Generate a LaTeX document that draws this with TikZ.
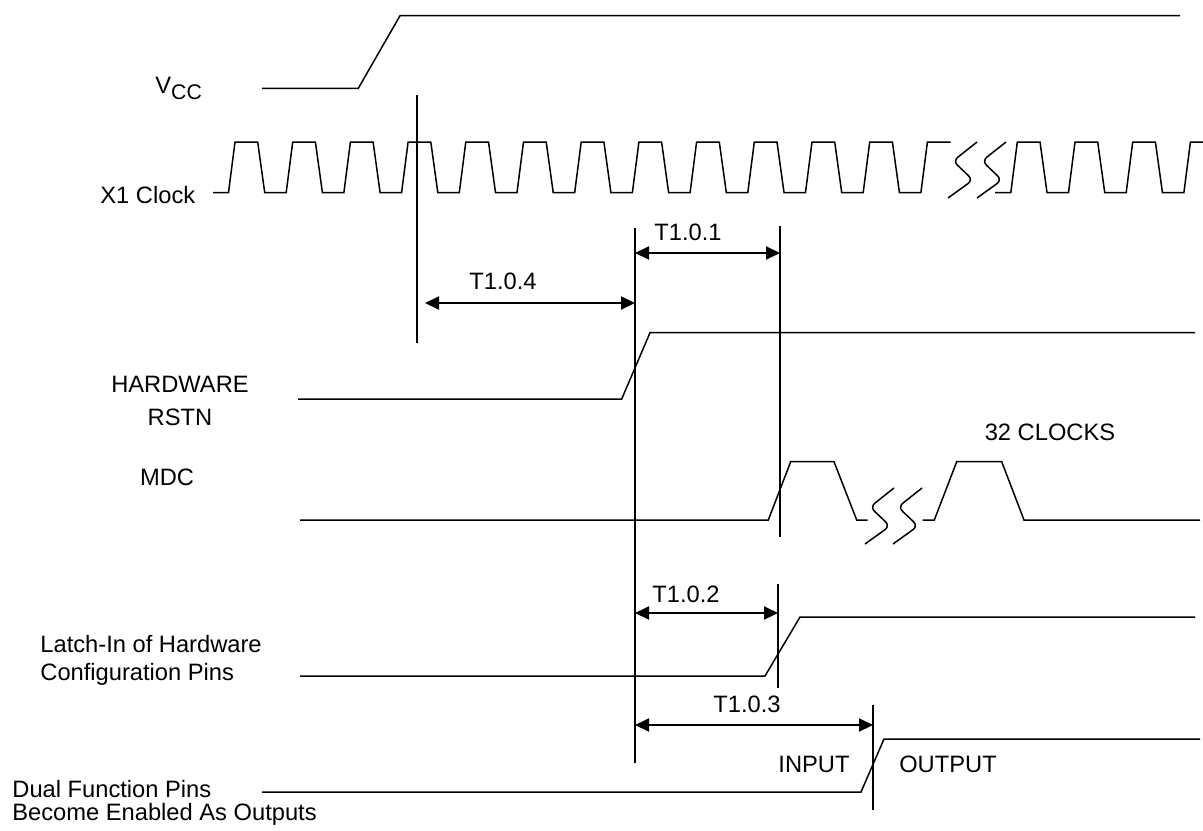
\documentclass[tikz,border=0pt]{standalone}
\usepackage{fontspec}
\setmainfont{Liberation Sans}
\usetikzlibrary{arrows.meta}
\tikzset{
  wave/.style={line width=0.75pt, line join=miter},
  marker/.style={line width=1pt},
  dim/.style={line width=1pt, {Triangle[length=7pt,width=6.5pt]}-{Triangle[length=7pt,width=6.5pt]}},
  lbl/.style={inner sep=0pt, font=\fontsize{11.85}{14}\selectfont},
}
\begin{document}
\begin{tikzpicture}[x=0.5pt, y=-0.5pt]
      \useasboundingbox (0,0) rectangle (1203,830);
      % LABELS
      \node[lbl, anchor=base west] (vcc) at (155,93) {V\raisebox{-3pt}{\fontsize{10.6}{12}\selectfont CC}};
      \node[lbl, anchor=base west] (clk) at (100,203) {X1 Clock};
      \node[lbl, anchor=base] (rst0) at (180,392) {HARDWARE};
      \node[lbl, anchor=base] (rst1) at (180,425) {RSTN};
      \node[lbl, anchor=base] (mdc) at (167,485) {MDC};
      \node[lbl, anchor=base west] (lat0) at (40,652) {Latch-In of Hardware};
      \node[lbl, anchor=base west] (lat1) at (40,680) {Configuration Pins};
      \node[lbl, anchor=base west] (dual0) at (12,797) {Dual Function Pins};
      \node[lbl, anchor=base west] (dual1) at (12,820) {Become Enabled As Outputs};
      \node[lbl, anchor=base] (nclk) at (1050,440) {32 CLOCKS};
      \node[lbl, anchor=base] (inp) at (814,772) {INPUT};
      \node[lbl, anchor=base] (outp) at (948,772) {OUTPUT};
      % VCC
      \draw[wave] (262,88.3) -- (358.3,88.3) -- (400,15.7) -- (1180,15.7);
      % X1 CLOCK
      \draw[wave] (213,192.5) -- (228.5,192.5)
        \foreach \k in {0,...,11} {
          -- ({228.5+57.7*\k},192.5) -- ({235+57.7*\k},142)
          -- ({257.7+57.7*\k},142) -- ({264.7+57.7*\k},192.5)
        } -- (920.9,192.5) -- (927.4,142) -- (950.7,142);
      \draw[wave] (995,192.5) -- (1010.8,192.5)
        \foreach \k in {0,...,2} {
          -- ({1010.8+57.7*\k},192.5) -- ({1017.3+57.7*\k},142)
          -- ({1040+57.7*\k},142) -- ({1047+57.7*\k},192.5)
        } -- (1183.9,192.5) -- (1190.4,142) -- (1203,142);
      % HARDWARE RSTN
      \draw[wave] (298,399) -- (621.7,399) -- (650,332.7) -- (1195,332.7);
      % MDC
      \draw[wave] (300,520) -- (768.3,520) -- (790.7,461.7) -- (834,461.7)
        -- (856.7,520) -- (867.7,520);
      \draw[wave] (922.7,520) -- (934.3,520) -- (956.7,461.7) -- (1001.7,461.7)
        -- (1024,520) -- (1200,520);
      % BREAKS
      \foreach \bx/\by in {948/198, 977/198, 865/544, 893/544}
        \draw[wave, rounded corners=3pt] (\bx,\by) -- ++(25,-18) -- ++(-20,-19) -- ++(24,-19);
      % LATCH-IN
      \draw[wave] (300,676) -- (765,676) -- (800,617) -- (1195,617);
      % DUAL FUNCTION PINS
      \draw[wave] (262,792) -- (861,792) -- (884,739) -- (1200,739);
      % MARKERS
      \coordinate (m1t) at (417,95);   \coordinate (m1b) at (417,343);
      \coordinate (m2t) at (635,228);  \coordinate (m2b) at (635,763);
      \coordinate (m3t) at (780,226);  \coordinate (m3b) at (780,537);
      \coordinate (m4t) at (778,584);  \coordinate (m4b) at (778,688);
      \coordinate (m5t) at (873,705);  \coordinate (m5b) at (873,810);
      \foreach \m in {m1,m2,m3,m4,m5}
        \draw[marker] (\m t) -- (\m b);
      % TIMINGS
      \coordinate (a4l) at (425,303);  \coordinate (a4r) at (635,303);
      \coordinate (a1l) at (635,253);  \coordinate (a1r) at (780,253);
      \coordinate (a2l) at (635,613);  \coordinate (a2r) at (778,613);
      \coordinate (a3l) at (635,725);  \coordinate (a3r) at (873,725);
      \draw[dim] (a4l) -- (a4r);
      \draw[dim] (a1l) -- (a1r);
      \draw[dim] (a2l) -- (a2r);
      \draw[dim] (a3l) -- (a3r);
      \node[lbl, anchor=base] (t104) at (503,289) {T1.0.4};
      \node[lbl, anchor=base] (t101) at (688,240) {T1.0.1};
      \node[lbl, anchor=base] (t102) at (686,602) {T1.0.2};
      \node[lbl, anchor=base] (t103) at (747,712) {T1.0.3};
\end{tikzpicture}
\end{document}
